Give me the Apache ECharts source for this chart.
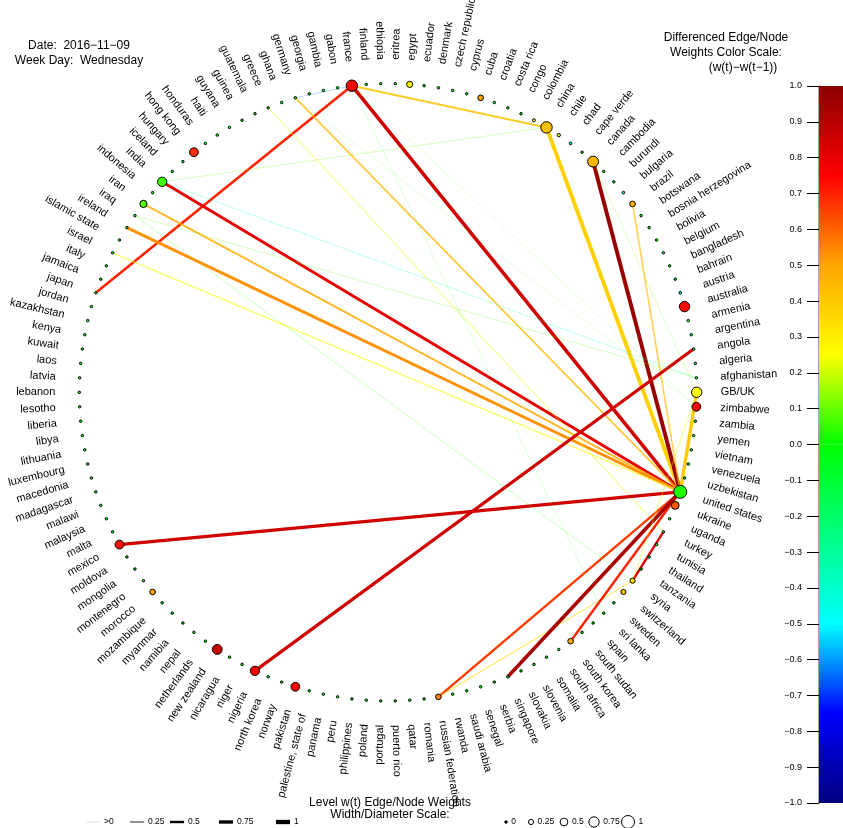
<!DOCTYPE html>
<html><head><meta charset="utf-8">
<script src="https://cdn.jsdelivr.net/npm/echarts@6/dist/echarts.min.js"></script>
<style>html,body{margin:0;padding:0;background:#fff}#c{width:843px;height:828px}</style>
</head><body><div id="c"></div>
<script>
// ---------------- DATA ----------------
const countries = ['GB/UK','afghanistan','algeria','angola','argentina','armenia','australia','austria','bahrain','bangladesh','belgium','bolivia','bosnia herzegovina','botswana','brazil','bulgaria','burundi','cambodia','canada','cape verde','chad','chile','china','colombia','congo','costa rica','croatia','cuba','cyprus','czech republic','denmark','ecuador','egypt','eritrea','ethiopia','finland','france','gabon','gambia','georgia','germany','ghana','greece','guatemala','guinea','guyana','haiti','honduras','hong kong','hungary','iceland','india','indonesia','iran','iraq','ireland','islamic state','israel','italy','jamaica','japan','jordan','kazakhstan','kenya','kuwait','laos','latvia','lebanon','lesotho','liberia','libya','lithuania','luxembourg','macedonia','madagascar','malawi','malaysia','malta','mexico','moldova','mongolia','montenegro','morocco','mozambique','myanmar','namibia','nepal','netherlands','new zealand','nicaragua','niger','nigeria','north korea','norway','pakistan','palestine, state of','panama','peru','philippines','poland','portugal','puerto rico','qatar','romania','russian federation','rwanda','saudi arabia','senegal','serbia','singapore','slovakia','slovenia','somalia','south africa','south korea','south sudan','spain','sri lanka','sweden','switzerland','syria','tanzania','thailand','tunisia','turkey','uganda','ukraine','united states','uzbekistan','venezuela','vietnam','yemen','zambia','zimbabwe'];

// nodes with non-zero level weight w(t) or non-zero difference (others: w = 0, diff = 0)
const activeNodes   = ['united states','france','china','canada','egypt','cuba','colombia','chile','chad','bulgaria','austria','brazil','australia','GB/UK','zimbabwe','ukraine','syria','switzerland','south korea','russian federation','pakistan','nigeria','new zealand','morocco','mexico','hong kong','india','iran'];
const activeWeights = [1.00, 0.85, 0.85, 0.80, 0.35, 0.30, 0.05, 0.08, 0.02, 0.02, 0.02, 0.30, 0.75, 0.75, 0.60, 0.50, 0.25, 0.25, 0.30, 0.30, 0.60, 0.65, 0.70, 0.30, 0.60, 0.60, 0.65, 0.45];
const activeDiffs   = [0.03, 0.76, 0.42, 0.45, 0.27, 0.50, 0.25, 0.22, -0.40, -0.40, -0.40, 0.45, 0.75, 0.25, 0.75, 0.62, 0.33, 0.40, 0.47, 0.55, 0.75, 0.75, 0.87, 0.50, 0.73, 0.68, 0.06, 0.08];

// edges
const edgeSources = ['france','japan','china','france','canada','canada','brazil','GB/UK','india','iran','ireland','israel','greece','germany','germany','mexico','nigeria','russian federation','russian federation','south korea','singapore','turkey','syria','iraq','iraq','india','india','france','france','germany'];
const edgeTargets = ['united states','france','united states','china','united states','GB/UK','united states','united states','united states','united states','united states','united states','turkey','united states','france','united states','angola','united states','syria','united states','united states','syria','GB/UK','syria','afghanistan','afghanistan','china','sri lanka','zimbabwe','zimbabwe'];
const edgeWeights = [0.80, 0.55, 0.90, 0.40, 0.90, 0.08, 0.30, 0.75, 0.65, 0.40, 0.60, 0.25, 0.15, 0.35, 0.10, 0.70, 0.70, 0.50, 0.20, 0.50, 0.80, 0.50, 0.15, 0.08, 0.08, 0.08, 0.08, 0.03, 0.03, 0.03];
const edgeDiffs   = [0.85, 0.70, 0.38, 0.42, 0.97, 0.12, 0.43, 0.40, 0.80, 0.48, 0.53, 0.24, 0.22, 0.45, -0.62, 0.85, 0.85, 0.66, 0.35, 0.70, 0.93, 0.80, 0.22, 0.05, 0.10, -0.35, 0.10, 0.02, 0.05, 0.05];

// legends / scales
const colorScaleStops  = [-1, -0.75, -0.5, -0.25, 0, 0.25, 0.5, 0.75, 1];
const colorScaleColors = ['#00007F','#0000FF','#00FFFF','#00FF80','#00FF00','#FFFF00','#FFA500','#FF0000','#8B0000'];
const widthLegendLabels = ['>0','0.25','0.5','0.75','1'];
const widthLegendValues = [0.02, 0.25, 0.5, 0.75, 1];
const sizeLegendLabels = ['0','0.25','0.5','0.75','1'];
const sizeLegendValues = [0, 0.25, 0.5, 0.75, 1];
const dateText = 'Date:  2016\u221211\u221209';
const weekdayText = 'Week Day:  Wednesday';

// ---------------- HELPERS ----------------
function hexToRgb(h){return [parseInt(h.substr(1,2),16),parseInt(h.substr(3,2),16),parseInt(h.substr(5,2),16)];}
function diffColor(d){
  d = Math.max(-1, Math.min(1, d));
  for (let k = 0; k < colorScaleStops.length - 1; k++) {
    const a = colorScaleStops[k], b = colorScaleStops[k+1];
    if (d >= a && d <= b) {
      const t = (d - a) / (b - a);
      const c1 = hexToRgb(colorScaleColors[k]), c2 = hexToRgb(colorScaleColors[k+1]);
      const c = c1.map((v, j) => Math.round(v + (c2[j] - v) * t));
      return 'rgb(' + c.join(',') + ')';
    }
  }
  return colorScaleColors[colorScaleColors.length-1];
}
const edgeWidth = w => 0.5 + 3.8 * w;
const edgeAlpha = w => Math.min(1, 0.2 + 1.6 * w);
const nodeSize = w => 2.5 + 10.5 * w;

const N = countries.length;
const FONT = 'Liberation Sans, Arial, Helvetica, sans-serif';
const LABEL_GAP = 24;

const nodes = countries.map((name, i) => {
  const k = activeNodes.indexOf(name);
  const w = k >= 0 ? activeWeights[k] : 0;
  const d = k >= 0 ? activeDiffs[k] : 0;
  const theta = i * 360 / N;
  const left = theta > 90 && theta < 270;
  const rot = theta <= 90 ? theta : (left ? theta - 180 : theta - 360);
  return {
    name: name,
    value: [1, i],
    symbolSize: nodeSize(w),
    itemStyle: { color: diffColor(d), borderColor: '#000', borderWidth: 1 },
    label: {
      show: true, position: 'inside', rotate: rot,
      align: left ? 'right' : 'left', verticalAlign: 'middle',
      padding: left ? [0, LABEL_GAP, 0, 0] : [0, 0, 0, LABEL_GAP]
    }
  };
});

const links = edgeSources.map((s, k) => ({
  source: s, target: edgeTargets[k],
  lineStyle: { color: diffColor(edgeDiffs[k]), width: edgeWidth(edgeWeights[k]), opacity: edgeAlpha(edgeWeights[k]), curveness: 0 }
}));

// colour bar gradients
function gradStops(sign){
  const st = [];
  for (let t = 0; t <= 20; t++) {
    const f = t / 20;
    st.push({ offset: f, color: diffColor(sign > 0 ? 1 - f : -f) });
  }
  return st;
}

// bottom legend graphics
const graphics = [];
const lineLegendX = [86, 130, 170, 219, 276];
widthLegendValues.forEach((w, k) => {
  const x = lineLegendX[k];
  graphics.push({ type: 'line', shape: { x1: x, y1: 822, x2: x + 14, y2: 822 },
    style: { stroke: '#000', lineWidth: edgeWidth(w), opacity: edgeAlpha(w) } });
  graphics.push({ type: 'text', x: x + 18, y: 822, style: { text: widthLegendLabels[k], font: '8.5px ' + FONT, fill: '#000', textVerticalAlign: 'middle' } });
});
const sizeLegendX = [506, 531, 564, 594, 628];
sizeLegendValues.forEach((w, k) => {
  const x = sizeLegendX[k];
  const r = nodeSize(w) / 2;
  graphics.push({ type: 'circle', shape: { cx: x, cy: 822, r: r },
    style: { fill: w === 0 ? '#000' : 'none', stroke: '#000', lineWidth: 1 } });
  graphics.push({ type: 'text', x: x + r + 4, y: 822, style: { text: sizeLegendLabels[k], font: '8.5px ' + FONT, fill: '#000', textVerticalAlign: 'middle' } });
});
const texts = [
  [dateText, 79, 46, 'center'], [weekdayText, 79, 61, 'center'],
  ['Differenced Edge/Node', 726, 38, 'center'], ['Weights Color Scale:', 726, 53, 'center'], ['(w(t)\u2212w(t\u22121))', 743, 68, 'center'],
  ['Level w(t) Edge/Node Weights', 390, 803, 'center'], ['Width/Diameter Scale:', 390, 815, 'center']
];
texts.forEach(t => graphics.push({ type: 'text', x: t[1], y: t[2],
  style: { text: t[0], font: '12px ' + FONT, fill: '#000', textAlign: t[3], textVerticalAlign: 'middle' } }));

const chart = echarts.init(document.getElementById('c'), null, { renderer: 'canvas' });
chart.setOption({
  animation: false,
  backgroundColor: '#fff',
  textStyle: { fontFamily: FONT },
  polar: { center: [388, 392.3], radius: 308.7 },
  angleAxis: { type: 'value', min: 0, max: N, startAngle: 0, clockwise: false, show: false },
  radiusAxis: { type: 'value', min: 0, max: 1, show: false },
  grid: { left: 819, top: 86, width: 24, height: 717 },
  xAxis: { type: 'category', data: [''], show: false },
  yAxis: { type: 'value', min: -1, max: 1, interval: 0.1,
    axisLine: { show: true, lineStyle: { color: '#888', width: 1.5 } },
    axisTick: { show: true, length: 12, lineStyle: { color: '#000', width: 1 } },
    axisLabel: { margin: 17, fontSize: 9, color: '#000', fontFamily: FONT,
      formatter: v => v.toFixed(1).replace('-', '\u2212') },
    splitLine: { show: false } },
  series: [
    { type: 'bar', stack: 'cb', data: [1], barWidth: '100%', silent: true, z: 1,
      itemStyle: { color: { type: 'linear', x: 0, y: 0, x2: 0, y2: 1, colorStops: gradStops(1) } } },
    { type: 'bar', stack: 'cb', data: [-1], barWidth: '100%', silent: true, z: 1,
      itemStyle: { color: { type: 'linear', x: 0, y: 0, x2: 0, y2: 1, colorStops: gradStops(-1) } } },
    { type: 'graph', coordinateSystem: 'polar', polarIndex: 0, layout: 'none', silent: true,
      data: nodes, links: links, edgeSymbol: ['none', 'none'],
      label: { show: true, fontSize: 11, color: '#000', fontFamily: FONT },
      lineStyle: { curveness: 0 },
      emphasis: { disabled: true } }
  ],
  graphic: graphics
});
</script></body></html>
